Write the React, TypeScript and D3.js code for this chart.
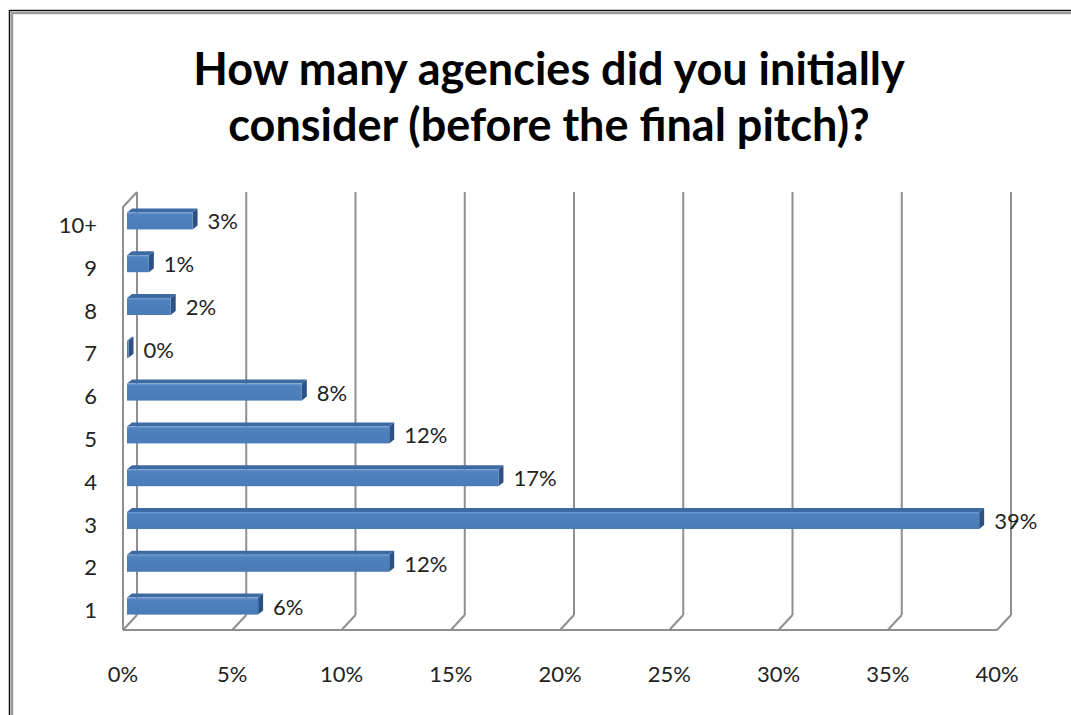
import React from "react";
import * as d3 from "d3";

const categories = ["10+", "9", "8", "7", "6", "5", "4", "3", "2", "1"];
const shares = [3, 1, 2, 0, 8, 12, 17, 39, 12, 6];
const tickValues = [0, 5, 10, 15, 20, 25, 30, 35, 40];
const titleLines = [
  "How many agencies did you initially",
  "consider (before the final pitch)?",
];

const W = 1071;
const H = 715;

// 3D box geometry: back wall and the depth offset towards the viewer
const backTop = 192;
const backBottom = 615;
const depthX = -14;
const depthY = 15;

// bar depth placement (front face offset from the back wall, and its thickness)
const barFrontDX = -10;
const barThickX = 5;
const barThickY = -4;
const barFaceH = 17;

const FONT = "Lato, 'Open Sans', sans-serif";
const LABEL_SIZE = 22;

export default function App() {
  const x = d3.scaleLinear().domain([0, 40]).range([137, 1011]);
  const y = d3
    .scaleBand<string>()
    .domain(categories)
    .range([205, 633])
    .paddingInner(0);

  const grid = "#8f8f8f";
  const barLen = (v: number) => x(v) - x(0);
  const x0 = x(0) + barFrontDX;

  return (
    <svg
      width={W}
      height={H}
      style={{ position: "absolute", left: 0, top: 0, background: "#fff" }}
      fontFamily={FONT}
    >
      <defs>
        <linearGradient id="barFront" x1="0" y1="0" x2="0" y2="1">
          <stop offset="0" stopColor="#6f9ad0" />
          <stop offset="0.15" stopColor="#4f81bd" />
          <stop offset="1" stopColor="#4a7bb7" />
        </linearGradient>
      </defs>

      {/* outer frame */}
      <line x1={10} y1={10.5} x2={W} y2={10.5} stroke="#111" strokeWidth={1.5} />
      <line x1={12} y1={13} x2={W} y2={13} stroke="#9a9a9a" strokeWidth={2.5} />
      <line x1={9.5} y1={10} x2={9.5} y2={H} stroke="#111" strokeWidth={1.5} />
      <line x1={12} y1={12} x2={12} y2={H} stroke="#9a9a9a" strokeWidth={2.5} />

      {/* title */}
      {titleLines.map((t, i) => (
        <text
          key={t}
          x={549}
          y={85 + i * 56}
          textAnchor="middle"
          fontSize={45}
          fontWeight={700}
          fill="#000"
        >
          {t}
        </text>
      ))}

      {/* back wall gridlines */}
      {tickValues.map((t) => (
        <line
          key={"g" + t}
          x1={x(t)}
          y1={backTop}
          x2={x(t)}
          y2={backBottom}
          stroke={grid}
          strokeWidth={2}
        />
      ))}
      {/* floor slants */}
      {tickValues.map((t) => (
        <line
          key={"f" + t}
          x1={x(t)}
          y1={backBottom}
          x2={x(t) + depthX}
          y2={backBottom + depthY}
          stroke={grid}
          strokeWidth={2}
        />
      ))}
      {/* left side wall */}
      <polyline
        points={`${x(0)},${backTop} ${x(0) + depthX},${backTop + depthY} ${x(0) + depthX},${backBottom + depthY}`}
        fill="none"
        stroke={grid}
        strokeWidth={2}
      />
      {/* floor front edge */}
      <line
        x1={x(0) + depthX}
        y1={backBottom + depthY}
        x2={x(40) + depthX}
        y2={backBottom + depthY}
        stroke={grid}
        strokeWidth={2}
      />

      {/* bars */}
      {categories.map((c, i) => {
        const v = shares[i];
        const cy = (y(c) as number) + y.bandwidth() / 2 - 5.5;
        const top = cy - barFaceH / 2;
        const len = Math.max(barLen(v), 1.5);
        const xr = x0 + len;
        return (
          <g key={c}>
            <polygon
              points={`${x0},${top} ${x0 + barThickX},${top + barThickY} ${xr + barThickX},${top + barThickY} ${xr},${top}`}
              fill="#3d6aa3"
            />
            <polygon
              points={`${xr},${top} ${xr + barThickX},${top + barThickY} ${xr + barThickX},${top + barFaceH + barThickY} ${xr},${top + barFaceH}`}
              fill="#2c5283"
            />
            <rect x={x0} y={top} width={len} height={barFaceH} fill="url(#barFront)" />
            <text
              x={xr + barThickX + 10}
              y={cy + 3}
              dominantBaseline="middle"
              fontSize={LABEL_SIZE}
              fill="#222"
            >
              {v}%
            </text>
          </g>
        );
      })}

      {/* category labels */}
      {categories.map((c) => (
        <text
          key={"l" + c}
          x={97}
          y={(y(c) as number) + y.bandwidth() / 2 + 1}
          textAnchor="end"
          dominantBaseline="middle"
          fontSize={LABEL_SIZE}
          fill="#222"
        >
          {c}
        </text>
      ))}

      {/* value axis labels */}
      {tickValues.map((t) => (
        <text
          key={"t" + t}
          x={x(t) + depthX}
          y={676}
          textAnchor="middle"
          dominantBaseline="middle"
          fontSize={LABEL_SIZE}
          fill="#222"
        >
          {t}%
        </text>
      ))}
    </svg>
  );
}
